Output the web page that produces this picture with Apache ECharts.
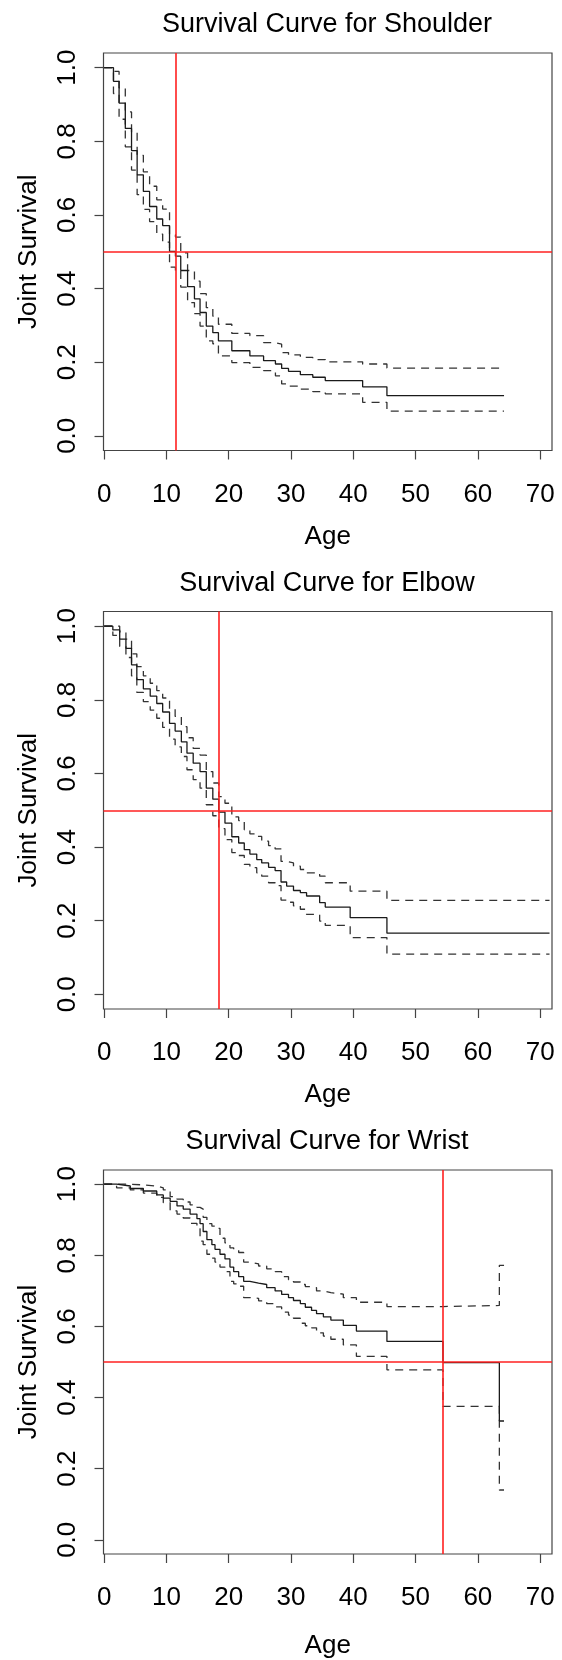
<!DOCTYPE html>
<html>
<head>
<meta charset="utf-8">
<title>Survival Curves</title>
<script src="https://cdn.jsdelivr.net/npm/echarts@6.0.0/dist/echarts.min.js"></script>
<style>
    html, body { margin: 0; padding: 0; background: #fff; }
    #chart { width: 562px; height: 1660px; }
</style>
</head>
<body>
<div id="chart"></div>
<script>
// 刻度
const xTicks = [0, 10, 20, 30, 40, 50, 60, 70];
const yTicks = [0, 0.2, 0.4, 0.6, 0.8, 1.0];

// Shoulder: 事件时间, 生存率, 置信区间上下限
const shoulderTime  = [0, 1.5, 2.4, 3.4, 4.4, 5.3, 6.3, 7.3, 8.45, 9.4, 10.5, 11.45, 12.3, 13.4, 14.5, 15.4, 16.4, 17.45, 18.35, 20.5, 23.4, 25.6, 27.5, 28.5, 29.6, 31.5, 33.5, 35.5, 41.5, 45.4, 64.2];
const shoulderSurv  = [1.0, 0.963, 0.904, 0.835, 0.775, 0.709, 0.664, 0.623, 0.589, 0.571, 0.501, 0.488, 0.449, 0.405, 0.372, 0.335, 0.298, 0.28, 0.258, 0.231, 0.217, 0.204, 0.195, 0.183, 0.175, 0.166, 0.159, 0.15, 0.133, 0.109, 0.109];
const shoulderUpper = [1.0, 0.99, 0.945, 0.88, 0.825, 0.762, 0.717, 0.678, 0.641, 0.616, 0.546, 0.54, 0.497, 0.449, 0.42, 0.386, 0.348, 0.325, 0.303, 0.278, 0.272, 0.253, 0.249, 0.226, 0.22, 0.213, 0.207, 0.201, 0.195, 0.184, 0.184];
const shoulderLower = [1.0, 0.93, 0.86, 0.785, 0.722, 0.655, 0.615, 0.582, 0.548, 0.526, 0.458, 0.449, 0.404, 0.362, 0.332, 0.298, 0.258, 0.25, 0.217, 0.199, 0.186, 0.177, 0.163, 0.141, 0.135, 0.127, 0.12, 0.114, 0.091, 0.067, 0.067];

// Elbow
const elbowTime  = [0, 1.4, 2.5, 3.5, 4.4, 5.25, 6.3, 7.4, 8.45, 9.4, 10.5, 11.4, 12.4, 13.3, 14.3, 15.4, 16.4, 17.45, 18.4, 19.4, 20.5, 21.6, 22.5, 23.4, 24.5, 25.3, 26.4, 27.45, 28.4, 29.3, 30.4, 31.5, 32.5, 34.6, 35.5, 39.5, 45.4, 71.5];
const elbowSurv  = [1.0, 0.99, 0.965, 0.94, 0.895, 0.855, 0.83, 0.81, 0.79, 0.767, 0.736, 0.715, 0.686, 0.655, 0.628, 0.605, 0.56, 0.53, 0.495, 0.465, 0.428, 0.411, 0.393, 0.381, 0.366, 0.357, 0.345, 0.336, 0.305, 0.294, 0.282, 0.276, 0.267, 0.249, 0.237, 0.208, 0.166, 0.166];
const elbowUpper = [1.0, 1.0, 0.985, 0.965, 0.925, 0.89, 0.865, 0.845, 0.825, 0.805, 0.775, 0.755, 0.727, 0.697, 0.668, 0.65, 0.605, 0.574, 0.537, 0.519, 0.482, 0.472, 0.447, 0.436, 0.429, 0.416, 0.404, 0.395, 0.361, 0.357, 0.348, 0.339, 0.33, 0.321, 0.303, 0.28, 0.255, 0.255];
const elbowLower = [1.0, 0.975, 0.945, 0.915, 0.865, 0.82, 0.795, 0.772, 0.75, 0.725, 0.693, 0.672, 0.646, 0.61, 0.583, 0.56, 0.515, 0.485, 0.45, 0.42, 0.385, 0.377, 0.353, 0.344, 0.33, 0.321, 0.303, 0.295, 0.256, 0.25, 0.24, 0.231, 0.217, 0.199, 0.187, 0.154, 0.109, 0.109];

// Wrist
const wristTime  = [0, 2, 4.2, 6.3, 8.45, 9.5, 10.6, 11.7, 12.7, 13.8, 14.9, 15.4, 15.9, 16.5, 17.3, 17.8, 18.6, 19.4, 20.2, 20.8, 21.6, 22.4, 23.4, 24.8, 26.1, 27.45, 28.5, 29.6, 30.4, 31.5, 32.3, 33.3, 34.1, 35.2, 36.4, 38.4, 40.5, 45.4, 54.4, 63.45, 64.2];
const wristSurv  = [1.0, 0.995, 0.988, 0.981, 0.97, 0.961, 0.952, 0.939, 0.93, 0.916, 0.903, 0.889, 0.867, 0.844, 0.83, 0.817, 0.803, 0.79, 0.767, 0.754, 0.74, 0.727, 0.722, 0.718, 0.709, 0.7, 0.69, 0.681, 0.673, 0.664, 0.654, 0.645, 0.636, 0.627, 0.618, 0.603, 0.587, 0.558, 0.498, 0.334, 0.334];
const wristUpper = [1.0, 1.0, 0.998, 0.995, 0.99, 0.984, 0.965, 0.958, 0.95, 0.942, 0.935, 0.93, 0.907, 0.889, 0.882, 0.876, 0.848, 0.835, 0.821, 0.815, 0.808, 0.781, 0.776, 0.77, 0.762, 0.754, 0.74, 0.731, 0.725, 0.718, 0.712, 0.709, 0.7, 0.695, 0.691, 0.681, 0.668, 0.656, 0.659, 0.772, 0.772];
const wristLower = [1.0, 0.99, 0.984, 0.975, 0.963, 0.948, 0.925, 0.916, 0.905, 0.89, 0.875, 0.84, 0.83, 0.803, 0.792, 0.781, 0.767, 0.754, 0.727, 0.72, 0.713, 0.681, 0.679, 0.672, 0.664, 0.655, 0.64, 0.632, 0.623, 0.609, 0.602, 0.596, 0.582, 0.573, 0.564, 0.548, 0.516, 0.478, 0.375, 0.14, 0.14];

// 中位生存年龄 (红色竖线) 和 0.5 水平线
const medianAge = [11.45, 18.4, 54.4];
const halfSurvival = 0.5;

const jointNames = ['Shoulder', 'Elbow', 'Wrist'];

const panels = [
    { time: shoulderTime, surv: shoulderSurv, upper: shoulderUpper, lower: shoulderLower },
    { time: elbowTime, surv: elbowSurv, upper: elbowUpper, lower: elbowLower },
    { time: wristTime, surv: wristSurv, upper: wristUpper, lower: wristLower }
];

const FONT = '"Liberation Sans", Arial, Helvetica, sans-serif';
const gridTops = [53, 611.5, 1170];
const titleTops = [11.5, 570, 1128.5];
const ageGaps = [73, 73, 79];

/**
 * 把时间和数值数组组合成 [x, y] 数据
 */
function toPairs(time, values) {
    return time.map((t, i) => [t, values[i]]);
}

const grids = [];
const xAxes = [];
const yAxes = [];
const titles = [];
const series = [];

panels.forEach((p, i) => {
    grids.push({
        left: 103.5,
        top: gridTops[i],
        width: 448.5,
        height: 397.5,
        show: true,
        borderColor: '#444',
        borderWidth: 1.2
    });

    titles.push({
        text: 'Survival Curve for ' + jointNames[i],
        left: 327,
        top: titleTops[i],
        textAlign: 'center',
        padding: 0,
        textStyle: { fontSize: 27, fontWeight: 'normal', color: '#000', fontFamily: FONT }
    });

    xAxes.push({
        gridIndex: i,
        type: 'value',
        min: -0.1,
        max: 71.9,
        axisLine: { show: false, onZero: false },
        axisTick: { show: true, length: 9, customValues: xTicks, lineStyle: { color: '#444', width: 1.2 } },
        axisLabel: { customValues: xTicks, fontSize: 26, color: '#000', margin: 31, fontFamily: FONT },
        splitLine: { show: false },
        name: 'Age',
        nameLocation: 'middle',
        nameGap: ageGaps[i],
        nameTextStyle: { fontSize: 26, color: '#000', fontFamily: FONT }
    });

    yAxes.push({
        gridIndex: i,
        type: 'value',
        min: -0.04,
        max: 1.04,
        axisLine: { show: false, onZero: false },
        axisTick: { show: true, length: 9, customValues: yTicks, lineStyle: { color: '#444', width: 1.2 } },
        axisLabel: {
            customValues: yTicks,
            rotate: 90,
            fontSize: 26,
            color: '#000',
            margin: 23,
            fontFamily: FONT,
            formatter: v => v.toFixed(1)
        },
        splitLine: { show: false },
        name: 'Joint Survival',
        nameLocation: 'middle',
        nameGap: 62,
        nameRotate: 90,
        nameTextStyle: { fontSize: 26, color: '#000', fontFamily: FONT }
    });

    // 置信区间 (虚线)
    [p.upper, p.lower].forEach(ci => {
        series.push({
            type: 'line',
            xAxisIndex: i,
            yAxisIndex: i,
            step: 'end',
            symbol: 'none',
            data: toPairs(p.time, ci),
            lineStyle: { color: '#333', width: 1.3, type: [8, 6] }
        });
    });

    // 生存曲线 (实线) + 红色参考线
    series.push({
        type: 'line',
        xAxisIndex: i,
        yAxisIndex: i,
        step: 'end',
        symbol: 'none',
        data: toPairs(p.time, p.surv),
        lineStyle: { color: '#1a1a1a', width: 1.3 },
        markLine: {
            silent: true,
            symbol: 'none',
            label: { show: false },
            lineStyle: { color: '#ff2020', width: 1.6, type: 'solid' },
            data: [{ xAxis: medianAge[i] }, { yAxis: halfSurvival }]
        }
    });
});

const chart = echarts.init(document.getElementById('chart'), null, { renderer: 'canvas' });
chart.setOption({
    animation: false,
    backgroundColor: '#fff',
    title: titles,
    grid: grids,
    xAxis: xAxes,
    yAxis: yAxes,
    series: series
});
</script>
</body>
</html>
